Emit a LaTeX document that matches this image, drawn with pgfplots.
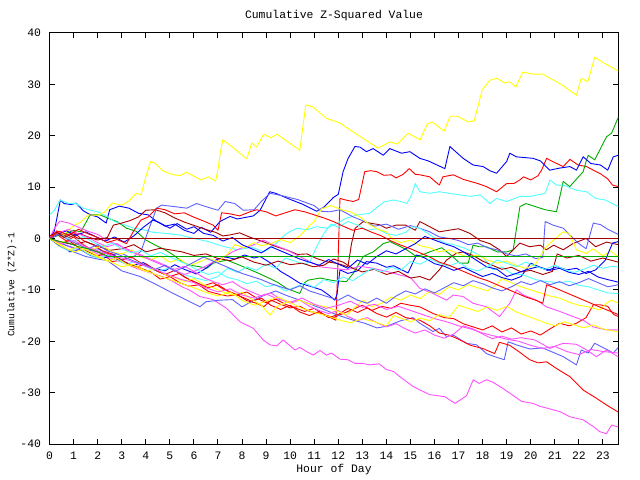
\documentclass[border=0pt]{standalone}
\usepackage{pgfplots}
\pgfplotsset{compat=1.18}
\usepackage{fontspec}
\setmainfont{Liberation Mono}
\definecolor{gpred}{RGB}{255,0,0}
\definecolor{gpgreen}{RGB}{0,170,0}
\definecolor{gpblue}{RGB}{0,0,255}
\definecolor{gpmag}{RGB}{255,80,255}
\definecolor{gpcyan}{RGB}{80,255,255}
\definecolor{gpdred}{RGB}{165,0,0}
\definecolor{gpyel}{RGB}{255,255,0}
\definecolor{gpslate}{RGB}{96,96,255}
\begin{document}
\begin{tikzpicture}
\useasboundingbox (-49.6bp,-36bp) rectangle (590.4bp,444bp);
\begin{axis}[
  at={(0,0)}, anchor=south west,
  scale only axis, width=568.7bp, height=411bp,
  xmin=0, xmax=23.64, ymin=-40, ymax=40,
  xtick={0,1,...,23}, ytick={-40,-30,...,40},
  tick align=inside, major tick length=5bp,
  tick style={black, line width=1bp},
  axis line style={black, line width=1bp},
  /pgf/number format/assume math mode=true,
  ticklabel style={font=\fontsize{11.4bp}{12bp}\selectfont},
  xticklabel style={anchor=center, inner sep=0pt, yshift=-12bp},
  yticklabel style={anchor=east, inner sep=0pt, xshift=-8.4bp},
  every axis plot/.append style={line width=0.9bp, mark=none, line join=round},
  clip=true,
]
% 1 red top
\addplot[gpred] coordinates {(0,0)(0.3,0.8)(0.7,-0.5)(1,0.3)(1.4,-1.2)(1.8,-2.3)(2.2,-3.0)(2.6,-4.5)(3.0,-4.2)(3.4,-5.2)(3.8,-5.8)(4.2,-6.5)(4.6,-7.9)(5.0,-7.4)(5.4,-8.6)(5.8,-9.3)(6.2,-9.0)(6.6,-10.3)(7.0,-10.8)(7.4,-11.2)(7.8,-10.9)(8.2,-12.1)(8.6,-12.6)(8.9,-13.3)(9.2,-12.0)(9.6,-12.8)(10.0,-13.5)(10.4,-13.2)(10.8,-14.2)(11.2,-14.5)(11.6,-15.2)(11.9,-15.9)(12.0,-3)(12.07,7.8)(12.3,7.5)(12.62,7.2)(12.85,7.6)(13.1,13.0)(13.35,13.2)(13.6,13.0)(13.9,12.3)(14.2,12.4)(14.4,11.8)(14.7,12.5)(14.95,13.6)(15.2,12.5)(15.39,12.4)(15.8,12.0)(16.2,10.4)(16.35,12.0)(16.78,12.4)(17.2,11.5)(17.8,10.7)(18.16,10.1)(18.58,9.1)(19.0,10.7)(19.3,10.7)(19.55,11.4)(19.7,12.0)(20.0,11.4)(20.3,12.2)(20.45,13.3)(20.66,15.6)(20.9,15.0)(21.35,14.0)(21.63,15.4)(21.97,14.3)(22.32,14.0)(22.6,13.3)(22.9,12.6)(23.2,11.6)(23.4,10.4)(23.64,10.1)};
% 2 green surge
\addplot[gpgreen] coordinates {(0,0)(0.3,0.5)(0.6,0.8)(0.99,1.6)(1.3,1.3)(1.68,4.6)(2.1,4.6)(2.4,4.0)(2.8,3.3)(3.2,2.0)(3.6,1.4)(4.0,-0.3)(4.4,-1.3)(4.8,-2.2)(5.14,-3.2)(5.5,-4.5)(5.83,-5.2)(6.25,-5.5)(6.53,-5.8)(6.8,-4.8)(7.36,-4.2)(7.8,-5.0)(8.2,-5.8)(8.7,-6.8)(9.16,-7.8)(9.5,-8.6)(9.85,-9.7)(10.4,-10.7)(10.6,-8.6)(10.75,-8.1)(11.24,-7.7)(11.8,-8.2)(12.34,-8.4)(12.62,-6.8)(13.04,-3.5)(13.45,-2.6)(13.87,-1.0)(14.15,-0.6)(14.5,-1.4)(14.84,-2.2)(15.25,-3.5)(15.6,-3.0)(15.8,-2.6)(16.3,-1.8)(16.7,-3.3)(17.05,-4.8)(17.4,-4.8)(17.6,-1.3)(17.85,-1.6)(18.16,-1.6)(18.6,-2.6)(19.0,-2.6)(19.27,-2.2)(19.55,6.2)(19.8,6.8)(20.2,6.2)(20.6,5.6)(21.07,5.2)(21.35,11.1)(21.62,10.1)(22.18,13.0)(22.32,15.3)(22.39,16.2)(22.66,15.3)(23.15,19.8)(23.36,20.5)(23.64,23.6)};
% 3 blue top
\addplot[gpblue] coordinates {(0,0)(0.2,1.5)(0.45,7.5)(0.6,6.8)(0.9,6.6)(1.1,6.9)(1.4,5.4)(1.7,4.6)(2.0,4.2)(2.35,3.0)(2.5,5.6)(2.9,6.3)(3.3,5.9)(3.7,4.9)(4.1,4.6)(4.4,3.5)(4.8,2.4)(5.2,2.8)(5.6,1.6)(6.0,1.0)(6.3,2.2)(6.7,1.2)(7.08,3.3)(7.5,4.3)(7.8,3.8)(8.47,4.4)(8.75,5.5)(9.15,9.1)(9.4,8.8)(9.9,7.8)(10.5,6.7)(11.1,5.3)(11.4,6.1)(11.8,8.0)(12.0,8.6)(12.2,13)(12.4,15.5)(12.69,17.9)(12.9,17.8)(13.17,16.9)(13.45,17.5)(13.87,16.2)(14.14,17.5)(14.63,16.6)(14.98,16.9)(15.39,15.6)(15.74,15.1)(16.43,13.6)(16.64,17.9)(17.19,15.6)(17.61,14.3)(18.02,14.0)(18.3,13.2)(18.58,12.7)(19.0,15.0)(19.13,16.6)(19.4,15.9)(20.1,15.6)(20.4,15.1)(20.79,13.3)(21.2,13.7)(21.63,14)(21.9,13.3)(22.18,15.9)(22.5,14.6)(22.9,14.3)(23.2,13.3)(23.43,15.9)(23.64,16.2)};
% 4 magenta bottom
\addplot[gpmag] coordinates {(0,0)(0.4,-0.8)(0.8,-1.6)(1.2,-2.2)(1.6,-2.0)(2.0,-3.0)(2.4,-3.6)(2.8,-4.2)(3.2,-5.0)(3.6,-5.8)(4.0,-6.4)(4.4,-7.0)(4.8,-7.6)(5.14,-8.4)(5.5,-9.4)(5.8,-10.0)(6.25,-11.3)(6.8,-11.9)(7.36,-13.6)(7.91,-16.2)(8.47,-17.5)(8.88,-19.75)(9.16,-20.7)(9.44,-20.9)(9.71,-19.75)(9.85,-20.3)(10.2,-21.7)(10.4,-21.2)(10.68,-22.0)(10.96,-22.7)(11.24,-21.8)(11.51,-22.7)(11.72,-22.3)(12.07,-23.5)(12.4,-23.6)(12.69,-24.3)(13.0,-24.3)(13.3,-24.6)(13.7,-24.4)(14.0,-25.5)(14.3,-25.9)(14.56,-26.9)(15.11,-28.8)(15.4,-29.5)(15.81,-30.4)(16.43,-30.8)(16.85,-32.1)(17.33,-30.6)(17.61,-27.5)(17.85,-28.2)(18.16,-27.5)(18.4,-27.9)(18.85,-29.2)(19.25,-30.5)(19.62,-31.7)(20.1,-32.1)(20.4,-32.7)(20.66,-33.0)(21.21,-33.7)(21.63,-34.7)(22.18,-35.3)(22.6,-36.6)(22.87,-37.6)(23.15,-38.0)(23.36,-36.3)(23.64,-36.7)};
% 5 cyan top
\addplot[gpcyan] coordinates {(0,4.6)(0.2,5.5)(0.43,7.5)(0.8,6.8)(1.1,6.8)(1.4,5.9)(1.7,5.5)(2.0,5.2)(2.3,4.5)(2.7,3.3)(3.1,2.7)(3.5,2.0)(3.9,1.7)(4.3,1.2)(4.8,1.0)(5.4,0.7)(6.0,0.0)(6.6,-0.6)(7.2,-1.5)(7.8,-2.2)(8.4,-1.7)(8.9,-2.6)(9.3,-1.5)(9.85,1.0)(10.27,2.0)(10.7,1.7)(11.1,2.3)(11.5,2.0)(11.9,2.8)(12.3,3.9)(12.8,4.6)(13.3,4.9)(13.73,6.5)(13.9,7.1)(14.29,7.5)(14.6,7.2)(14.85,6.8)(15.05,8.5)(15.2,10.7)(15.39,9.1)(15.8,8.8)(16.2,9.1)(16.6,8.8)(17.05,8.5)(17.5,8.2)(17.9,8.5)(18.3,6.8)(18.58,7.8)(19.0,7.2)(19.55,8.2)(20.0,8.2)(20.6,8.8)(20.8,11.4)(21.07,10.4)(21.35,10.4)(21.9,9.4)(22.32,9.1)(22.7,7.8)(23.1,7.5)(23.4,6.8)(23.64,6.2)};
% 6 dark red A
\addplot[gpdred] coordinates {(0,0)(0.4,0.9)(0.8,0.2)(1.2,1.0)(1.6,0.3)(2.0,-0.3)(2.4,0.2)(2.65,2.6)(3.0,3.0)(3.35,3.5)(3.7,4.2)(4.0,5.5)(4.4,5.6)(4.8,5.0)(5.2,4.0)(5.6,3.2)(5.97,2.6)(6.4,1.9)(6.9,1.2)(7.2,0.5)(7.5,0.7)(7.9,1.1)(8.3,0.3)(8.8,-0.5)(9.43,-1.6)(9.9,-2.3)(10.3,-3.1)(10.7,-3.0)(11.1,-3.9)(11.5,-4.5)(12.0,-4.9)(12.4,-5.5)(12.55,-1.0)(12.7,2.0)(13.04,3.3)(13.3,3.0)(13.7,2.7)(14.0,2.0)(14.4,2.6)(14.8,2.6)(15.2,1.6)(15.39,3.3)(15.8,2.3)(16.2,1.3)(16.6,1.6)(17.0,1.9)(17.47,1.0)(17.9,-0.4)(18.3,-1.0)(18.7,-2.2)(19.0,-3.5)(19.27,-2.2)(19.55,-0.9)(19.95,-1.6)(20.4,-1.3)(20.65,-2.2)(20.95,-1.3)(21.35,-2.2)(21.75,-1.0)(22.3,0)(22.7,-1.6)(23.15,-0.7)(23.64,-1.2)};
% 7 yellow top
\addplot[gpyel] coordinates {(0,0)(0.3,1.2)(0.6,0.8)(1,2.5)(1.3,3.2)(1.6,4.6)(2,4.5)(2.3,5.2)(2.6,6.9)(3,6.5)(3.3,7.3)(3.6,8.8)(3.8,8.5)(4.0,12)(4.2,15.0)(4.4,14.6)(4.7,13.2)(5,12.6)(5.4,12.2)(5.7,12.9)(6,12.1)(6.3,11.4)(6.6,12.0)(6.9,11.2)(7.0,13.5)(7.1,16.8)(7.2,19.2)(7.6,17.8)(8.2,15.5)(8.4,18.6)(8.6,17.8)(8.9,20.3)(9.2,19.6)(9.45,20.3)(10.4,17.2)(10.65,26)(10.95,25.6)(11.5,23.4)(12.07,22.5)(12.5,21.1)(13.65,17.6)(14.15,18.8)(14.45,18.4)(14.9,20.5)(15.4,19.2)(15.7,22.3)(15.9,22.7)(16.4,20.9)(16.65,23.8)(16.95,23.8)(17.4,22.7)(17.65,22.9)(17.98,28.9)(18.3,30.8)(18.6,31.2)(18.9,30.3)(19.13,30.5)(19.38,29.5)(19.67,32.4)(20.1,32.0)(20.5,32.0)(21.3,29.9)(21.9,27.9)(22.1,31.2)(22.37,30.5)(22.66,35.3)(22.99,34.3)(23.64,32.6)};
% 8 slate upper
\addplot[gpslate] coordinates {(0,0)(0.5,-1)(1,-1.8)(1.5,-2.5)(2,-2.0)(2.5,-3.2)(3,-2.9)(3.4,-3.8)(3.8,-2.5)(4.1,1.5)(4.45,5.9)(4.66,6.5)(5.2,6.2)(5.7,5.9)(6.11,6.8)(6.5,6.2)(7.0,5.5)(7.3,7.2)(7.7,6.8)(8.05,5.5)(8.5,5.6)(8.8,7.2)(9.16,8.8)(9.6,8.4)(10.3,7.6)(11.0,6.4)(11.3,5.3)(11.65,5.2)(12.07,5.6)(12.62,4.2)(13.1,3.3)(13.5,2.4)(14.0,2.8)(14.5,1.8)(15.0,2.5)(15.39,2)(15.8,1.3)(16.2,0.3)(16.64,0)(17.0,-0.4)(17.4,-1.2)(17.8,-0.9)(18.2,-1.8)(18.6,-2.2)(19.0,-3.0)(19.4,-3.4)(19.8,-3.0)(20.2,-3.9)(20.5,-3.7)(20.6,3.3)(20.93,2.6)(21.35,2)(21.6,0.8)(21.95,-0.8)(22.3,-2.0)(22.6,3)(22.9,2.7)(23.2,1.8)(23.64,0.8)};
% 9 red low
\addplot[gpred] coordinates {(0,0)(0.3,1.5)(0.6,0.5)(1.0,1.2)(1.4,-0.4)(1.8,-1.2)(2.2,-2.4)(2.6,-3.0)(3.0,-4.2)(3.4,-3.6)(3.8,-4.8)(4.2,-5.8)(4.6,-6.6)(5.0,-7.4)(5.4,-6.8)(5.8,-8.0)(6.2,-8.8)(6.6,-9.6)(7.0,-9.0)(7.4,-10.2)(7.8,-11.0)(8.2,-10.4)(8.6,-11.6)(9.0,-12.5)(9.4,-11.8)(9.8,-12.8)(10.2,-13.5)(10.6,-14.2)(11.0,-13.6)(11.4,-14.8)(11.8,-15.4)(12.2,-14.6)(12.6,-13.8)(13.0,-13.0)(13.4,-14.0)(13.8,-13.2)(14.2,-13.6)(14.6,-12.6)(15.0,-13.0)(15.39,-13.3)(15.94,-14.6)(16.4,-15.4)(16.8,-15.6)(17.2,-16.6)(17.6,-17.2)(18.0,-17.8)(18.4,-17.0)(18.8,-18.2)(19.2,-17.4)(19.6,-18.6)(20.0,-18.0)(20.4,-18.8)(20.8,-17.6)(21.2,-16.5)(21.6,-17.0)(21.9,-16.5)(22.3,-15.4)(22.6,-12.9)(22.87,-12.9)(23.2,-13.2)(23.45,-14.8)(23.64,-15.2)};
% 10 blue mid
\addplot[gpblue] coordinates {(0,0)(0.4,-1.2)(0.85,-2.6)(1.3,-2.2)(1.7,-3.3)(2.2,-3.9)(2.65,-3.2)(3.1,-4.6)(3.48,-5.2)(3.9,-4.7)(4.3,-5.8)(4.8,-6.3)(5.2,-5.1)(5.6,-6.0)(6.1,-6.9)(6.5,-5.8)(6.9,-4.2)(7.3,-3.6)(7.7,-4.0)(8.1,-3.2)(8.5,-3.8)(8.75,-3.5)(9.2,-4.8)(9.6,-6.4)(10.0,-7.5)(10.4,-8.7)(10.9,-9.4)(11.3,-10.0)(11.6,-11.0)(11.86,-12.0)(11.95,-10.8)(12.07,-6.1)(12.4,-6.8)(12.8,-6.3)(13.17,-4.5)(13.6,-4.8)(14.0,-5.6)(14.3,-5.3)(14.6,-6.0)(14.9,-6.7)(15.25,-3.2)(15.6,-3.8)(16.0,-4.9)(16.4,-5.4)(16.8,-6.2)(17.2,-5.6)(17.6,-6.5)(18.0,-7.4)(18.4,-6.8)(18.8,-7.6)(19.2,-8.1)(19.6,-7.4)(20.0,-4.8)(20.4,-5.6)(20.8,-6.2)(21.2,-5.8)(21.6,-6.6)(22.0,-7.0)(22.4,-6.4)(22.8,-7.5)(23.2,-8.0)(23.64,-8.5)};
% 11 magenta mid
\addplot[gpmag] coordinates {(0,0)(0.2,2.0)(0.43,3.4)(0.8,3.0)(1.2,2.2)(1.6,1.4)(2.0,0.8)(2.4,-0.4)(2.8,-1.2)(3.2,-2.0)(3.6,-2.8)(4.0,-3.6)(4.4,-4.4)(4.8,-5.2)(5.2,-6.0)(5.6,-5.4)(6.0,-6.4)(6.4,-5.6)(6.8,-4.6)(7.2,-3.8)(7.6,-2.6)(8.0,-1.8)(8.4,-1.4)(8.88,-0.3)(9.3,-1.2)(9.85,-2.2)(10.3,-3.3)(10.82,-4.5)(11.24,-5.5)(11.79,-5.8)(12.34,-6.1)(12.9,-5.4)(13.45,-5.8)(14.0,-6.4)(14.56,-7.1)(15.0,-7.6)(15.39,-9.7)(15.94,-10.7)(16.5,-12.0)(16.78,-11.0)(17.19,-11.3)(17.6,-12.6)(18.16,-13.3)(18.7,-15.2)(19.13,-12.6)(19.41,-10.0)(19.69,-11.0)(20.24,-12.0)(20.65,-13.3)(21.21,-14.2)(21.76,-15.2)(22.18,-15.9)(22.6,-17.2)(23.15,-17.8)(23.64,-17.8)};
% 12 cyan low
\addplot[gpcyan] coordinates {(0,0)(0.4,-1.5)(0.8,-2.4)(1.2,-1.8)(1.6,-3.0)(2.0,-3.8)(2.4,-3.2)(2.8,-4.2)(3.2,-5.0)(3.6,-4.4)(4.0,-5.5)(4.5,-6.4)(5.0,-5.7)(5.5,-6.9)(6.0,-7.6)(6.5,-8.2)(7.0,-7.4)(7.4,-5.8)(7.8,-6.6)(8.2,-5.5)(8.6,-6.2)(9.0,-5.0)(9.4,-5.8)(9.8,-3.8)(10.2,-4.4)(10.6,-5.0)(10.82,-4.5)(11.1,-1.6)(11.4,1.0)(11.7,2.8)(12.0,2.2)(12.4,3.3)(12.8,2.6)(13.2,1.6)(13.6,1.9)(14.0,1.0)(14.4,0.6)(14.8,1.2)(15.1,2.3)(15.39,2.0)(15.94,0.3)(16.4,-0.8)(16.8,-1.2)(17.2,-1.8)(17.6,-2.6)(18.0,-3.6)(18.44,-6.1)(18.8,-5.5)(19.2,-6.8)(19.7,-7.1)(20.2,-8.0)(20.7,-8.4)(21.2,-8.6)(21.6,-8.3)(22.0,-9.1)(22.4,-9.4)(22.8,-10.0)(23.2,-10.6)(23.64,-10.7)};
% 13 dark red B
\addplot[gpdred] coordinates {(0,0)(0.5,-0.7)(1.0,-1.2)(1.5,-0.6)(2.0,-1.5)(2.5,-2.3)(3.0,-2.0)(3.5,-1.2)(4.0,-2.6)(4.6,-1.9)(5.0,-2.2)(5.5,-2.6)(6.0,-3.3)(6.5,-3.0)(7.0,-3.9)(7.5,-4.3)(8.0,-3.6)(8.5,-4.6)(9.0,-5.2)(9.5,-4.4)(10.0,-5.1)(10.5,-4.8)(10.96,-5.5)(11.4,-5.2)(11.8,-4.0)(12.2,-4.6)(12.6,-5.8)(13.0,-6.5)(13.5,-6.0)(14.0,-7.0)(14.5,-6.4)(15.0,-7.7)(15.39,-7.4)(15.8,-8.1)(16.2,-6.1)(16.5,-4.2)(16.9,-2.9)(17.2,-2.6)(17.6,-3.3)(18.0,-4.4)(18.4,-5.2)(18.8,-6.0)(19.2,-5.6)(19.6,-6.5)(20.0,-6.2)(20.5,-7.0)(20.9,-6.4)(21.1,-3.0)(21.5,-3.8)(22.0,-3.3)(22.5,-4.4)(23.0,-3.8)(23.64,-4.6)};
% 14 yellow mid
\addplot[gpyel] coordinates {(0,0)(0.4,-0.8)(0.9,-0.4)(1.3,-1.5)(1.8,-2.0)(2.2,-1.4)(2.6,-2.6)(3.0,-3.0)(3.4,-2.2)(3.8,-3.6)(4.2,-4.1)(4.6,-3.4)(5.0,-4.6)(5.4,-4.0)(5.8,-5.3)(6.2,-4.6)(6.6,-3.9)(7.0,-4.5)(7.4,-3.0)(7.7,-1.2)(8.1,-1.8)(8.5,-0.8)(8.8,-1.4)(9.2,-1.0)(9.6,-0.2)(10.0,-0.8)(10.4,0.5)(10.8,2.5)(11.0,3.3)(11.3,5.8)(11.7,6.4)(12.2,5.5)(12.5,5.2)(12.9,4.2)(13.3,2.7)(13.7,1.7)(14.0,1.3)(14.2,0.0)(14.6,-0.8)(15.0,-0.3)(15.4,-1.4)(15.8,-1.8)(16.2,-2.6)(16.6,-2.2)(17.0,-3.0)(17.4,-3.6)(17.8,-3.2)(18.2,-4.2)(18.6,-4.8)(19.0,-4.4)(19.4,-5.3)(19.8,-5.8)(20.2,-5.0)(20.6,-1.8)(20.9,-0.5)(21.35,1.3)(21.6,1.0)(21.9,-2.2)(22.3,-2.9)(22.6,-2.0)(23.0,-3.4)(23.3,-2.4)(23.64,-3.6)};
% 15 slate low
\addplot[gpslate] coordinates {(0,0)(0.4,-1.4)(0.99,-2.6)(1.5,-3.5)(2.0,-4.0)(2.4,-4.3)(3.0,-6.3)(3.76,-7.4)(4.45,-9.0)(5.14,-10.7)(5.7,-12.0)(6.25,-13.3)(6.5,-12.3)(7.08,-12.0)(7.6,-11.9)(8.0,-13.3)(8.5,-12.0)(8.9,-11.1)(9.4,-10.2)(9.85,-11.1)(10.4,-12.0)(10.9,-12.9)(11.4,-13.8)(11.9,-14.8)(12.62,-15.9)(13.1,-16.5)(13.6,-17.4)(14.0,-17.1)(14.6,-16.0)(15.1,-15.4)(15.39,-16.5)(15.94,-18.1)(16.2,-17.5)(16.5,-19.1)(16.78,-18.8)(17.33,-20.4)(17.75,-20.7)(18.16,-22.4)(18.5,-23.0)(18.9,-23.6)(19.06,-20.1)(19.4,-20.7)(19.96,-21.5)(20.5,-21.3)(21.0,-22.3)(21.35,-23.0)(21.9,-24.6)(22.1,-21.7)(22.39,-22.3)(22.66,-20.4)(23.2,-21.7)(23.43,-22.3)(23.64,-21.2)};
% 16 red bottom
\addplot[gpred] coordinates {(0,0)(0.4,-1.2)(0.8,-0.4)(1.2,-1.8)(1.6,-2.6)(2.0,-3.4)(2.4,-2.8)(2.8,-4.0)(3.2,-4.8)(3.6,-5.6)(4.0,-4.9)(4.4,-6.2)(4.8,-7.0)(5.2,-6.2)(5.6,-7.5)(6.0,-8.4)(6.4,-9.2)(6.8,-8.6)(7.2,-9.8)(7.6,-10.6)(8.0,-11.4)(8.4,-12.2)(8.8,-11.6)(9.2,-13.0)(9.6,-13.8)(10.0,-13.0)(10.4,-14.3)(10.8,-15.0)(11.2,-14.2)(11.6,-15.4)(12.0,-14.8)(12.4,-13.6)(12.8,-14.4)(13.2,-13.5)(13.6,-14.6)(14.0,-15.3)(14.4,-14.4)(14.8,-15.4)(15.39,-15.9)(15.8,-17.0)(16.2,-18.4)(16.6,-18.8)(17.0,-19.6)(17.5,-20.8)(18.0,-21.4)(18.5,-22.4)(18.7,-20.2)(19.13,-20.8)(19.5,-22.0)(19.96,-23.6)(20.3,-24.2)(20.66,-24.0)(21.07,-25.3)(21.63,-26.9)(22.18,-29.5)(22.73,-31.1)(23.15,-32.4)(23.64,-33.8)};
% 17 blue mid 2
\addplot[gpblue] coordinates {(0,0)(0.3,0.8)(0.7,1.5)(1.1,0.6)(1.5,1.3)(1.9,0.4)(2.3,-0.5)(2.7,0.3)(3.1,-0.7)(3.5,0.5)(3.9,2.2)(4.3,3.6)(4.6,3.0)(5.0,2.0)(5.3,2.9)(5.7,1.8)(6.0,2.3)(6.4,1.0)(6.8,0.6)(7.2,-0.5)(7.6,0.2)(8.0,-1.2)(8.4,-2.0)(8.8,-2.8)(9.2,-1.6)(9.6,-2.4)(10.0,-3.2)(10.4,-4.0)(10.8,-4.6)(11.2,-5.2)(11.6,-4.1)(12.0,-5.0)(12.4,-5.8)(12.8,-4.2)(13.2,-5.0)(13.6,-3.5)(14.0,-2.4)(14.4,-3.0)(14.8,-2.0)(15.2,-1.0)(15.6,0.4)(16.0,-0.3)(16.4,-1.0)(16.8,-1.6)(17.2,-2.6)(17.6,-3.8)(18.16,-5.5)(18.6,-6.0)(19.0,-7.4)(19.4,-6.8)(19.8,-6.1)(20.3,-5.5)(20.7,-6.2)(21.1,-5.5)(21.5,-6.1)(21.9,-5.8)(22.3,-6.8)(22.7,-6.1)(23.1,-4.2)(23.4,-0.9)(23.64,-0.6)};
% 18 magenta low
\addplot[gpmag] coordinates {(0,0)(0.4,1.2)(0.8,1.8)(1.2,0.9)(1.6,0.2)(2.0,-0.8)(2.4,-1.6)(2.8,-1.0)(3.2,-2.2)(3.6,-3.0)(4.0,-3.8)(4.4,-4.6)(4.8,-5.4)(5.2,-6.2)(5.6,-7.0)(6.0,-6.4)(6.4,-7.6)(6.8,-8.4)(7.2,-9.0)(7.6,-8.4)(8.0,-9.6)(8.4,-10.4)(8.8,-11.2)(9.2,-10.6)(9.6,-11.8)(10.0,-12.6)(10.4,-12.0)(10.8,-13.2)(11.2,-14.0)(11.6,-14.6)(12.0,-14.0)(12.4,-15.2)(12.8,-16.0)(13.2,-15.4)(13.6,-16.4)(14.0,-17.2)(14.4,-16.6)(14.8,-17.6)(15.2,-18.4)(15.6,-17.8)(16.0,-18.8)(16.4,-19.4)(16.8,-18.6)(17.2,-17.0)(17.6,-17.6)(18.0,-18.6)(18.4,-19.5)(18.8,-19.0)(19.2,-19.6)(19.6,-19.3)(20.17,-19.75)(20.5,-20.6)(20.8,-21.4)(21.1,-20.8)(21.35,-20.4)(21.9,-20.6)(22.32,-21.7)(22.73,-23.0)(23.15,-21.7)(23.64,-23.0)};
% 19 cyan 3
\addplot[gpcyan] coordinates {(0,0)(0.3,1.0)(0.7,0.3)(1.0,-0.6)(1.4,0.4)(1.8,-0.7)(2.2,-1.6)(2.6,-0.9)(3.0,-2.0)(3.4,-2.8)(3.8,-2.3)(4.2,-3.4)(4.6,-2.7)(5.0,-3.6)(5.4,-4.4)(5.8,-5.2)(6.2,-6.3)(6.6,-7.0)(7.0,-6.5)(7.4,-7.6)(7.8,-8.0)(8.2,-8.8)(8.6,-8.3)(9.0,-9.4)(9.4,-9.0)(9.8,-10.2)(10.2,-9.5)(10.6,-8.7)(11.0,-9.5)(11.4,-8.0)(11.8,-8.6)(12.2,-7.5)(12.6,-8.2)(13.0,-7.0)(13.4,-5.8)(13.8,-6.5)(14.2,-5.6)(14.6,-6.2)(15.0,-4.5)(15.4,-5.0)(15.8,-4.0)(16.2,-4.8)(16.6,-5.4)(17.0,-4.6)(17.4,-5.8)(17.8,-6.3)(18.2,-5.5)(18.6,-4.2)(19.0,-4.8)(19.4,-5.5)(19.8,-4.6)(20.2,-5.4)(20.6,-6.0)(21.0,-5.2)(21.4,-6.0)(21.8,-6.6)(22.2,-6.0)(22.6,-5.2)(23.0,-5.8)(23.4,-5.4)(23.64,-5.6)};
% 20 yellow low
\addplot[gpyel] coordinates {(0,0)(0.4,-1.0)(0.8,-2.2)(1.2,-1.6)(1.6,-2.8)(2.0,-3.6)(2.4,-4.4)(2.8,-3.8)(3.2,-5.0)(3.6,-5.6)(4.0,-6.4)(4.4,-5.8)(4.8,-7.0)(5.2,-7.6)(5.6,-8.4)(6.0,-7.8)(6.4,-9.0)(6.8,-9.6)(7.2,-10.4)(7.6,-11.0)(8.0,-10.5)(8.4,-11.8)(8.8,-13.0)(9.16,-14.9)(9.43,-13.3)(9.85,-12.4)(10.4,-12.0)(10.7,-12.6)(11.1,-13.0)(11.5,-13.3)(11.9,-14.0)(12.34,-14.9)(12.7,-13.4)(13.04,-12.0)(13.4,-13.3)(13.8,-12.6)(14.2,-11.4)(14.6,-12.0)(15.0,-11.0)(15.4,-11.7)(15.8,-10.3)(16.2,-10.9)(16.6,-9.4)(17.0,-10.0)(17.4,-9.0)(17.8,-9.6)(18.2,-10.2)(18.58,-9.0)(18.8,-7.8)(19.2,-8.6)(19.6,-9.4)(20.0,-10.0)(20.4,-10.6)(20.8,-11.2)(21.2,-11.6)(21.6,-12.4)(22.0,-13.0)(22.4,-13.3)(22.87,-13.9)(23.2,-12.4)(23.36,-12.0)(23.64,-12.6)};
% 21 slate 2
\addplot[gpslate] coordinates {(0,0)(0.4,0.8)(0.8,-0.3)(1.2,-1.2)(1.6,-2.0)(2.0,-1.2)(2.4,-2.4)(2.8,-3.0)(3.2,-3.8)(3.6,-4.6)(4.0,-5.2)(4.4,-6.0)(4.8,-5.2)(5.2,-6.4)(5.6,-5.6)(6.0,-4.6)(6.4,-3.6)(6.8,-4.4)(7.2,-5.2)(7.6,-6.0)(8.0,-6.8)(8.4,-7.4)(8.8,-8.0)(9.2,-8.8)(9.6,-9.4)(10.0,-10.0)(10.4,-9.2)(10.8,-10.2)(11.2,-10.8)(11.6,-11.4)(12.0,-12.0)(12.4,-11.0)(12.8,-12.0)(13.2,-12.6)(13.6,-11.6)(14.0,-12.6)(14.4,-11.2)(14.8,-10.2)(15.2,-10.8)(15.6,-9.8)(16.0,-10.6)(16.4,-9.6)(16.8,-8.6)(17.2,-9.2)(17.6,-8.2)(18.0,-8.8)(18.4,-9.6)(18.8,-10.2)(19.2,-9.4)(19.6,-8.4)(20.0,-9.0)(20.4,-8.2)(20.8,-9.0)(21.2,-8.4)(21.6,-9.2)(22.0,-8.6)(22.4,-7.8)(22.8,-8.6)(23.2,-9.4)(23.64,-9.0)};
% 22 red mid
\addplot[gpred] coordinates {(0,0)(0.4,1.4)(0.8,0.6)(1.2,1.8)(1.6,0.9)(2.0,0.2)(2.4,-0.8)(2.8,-0.2)(3.2,-1.0)(3.5,1.5)(3.8,3.6)(4.1,4.2)(4.45,5.9)(4.8,5.6)(5.2,4.8)(5.6,5.0)(5.97,4.2)(6.4,3.4)(6.8,2.6)(7.0,1.6)(7.15,5.0)(7.5,4.8)(7.9,4.4)(8.33,5.2)(8.6,5.6)(9.0,5.2)(9.4,4.4)(9.8,5.0)(10.2,5.6)(10.6,5.2)(11.0,4.6)(11.4,4.0)(11.8,3.3)(12.2,2.4)(12.6,1.6)(13.0,2.0)(13.4,1.2)(13.8,0.5)(14.2,-0.5)(14.6,-1.3)(15.0,-2.0)(15.4,-2.8)(15.8,-3.6)(16.2,-4.6)(16.6,-5.2)(17.0,-6.0)(17.4,-6.8)(17.8,-7.6)(18.2,-8.2)(18.6,-9.0)(19.0,-9.8)(19.4,-10.6)(19.8,-11.4)(20.2,-12.0)(20.5,-12.6)(20.66,-9.0)(21.0,-9.6)(21.4,-10.4)(21.8,-11.2)(22.2,-12.0)(22.6,-12.8)(23.0,-13.6)(23.64,-14.8)};
% 23 magenta 3
\addplot[gpmag] coordinates {(0,0)(0.5,-1.0)(1.0,-0.4)(1.5,-1.6)(2.0,-2.4)(2.5,-3.2)(3.0,-3.8)(3.5,-4.6)(4.0,-5.4)(4.5,-6.2)(5.0,-7.2)(5.5,-8.0)(6.0,-8.6)(6.5,-9.6)(7.0,-10.4)(7.5,-9.8)(8.0,-11.0)(8.5,-11.6)(9.0,-10.8)(9.5,-11.8)(10.0,-12.4)(10.5,-11.6)(11.0,-12.8)(11.5,-13.6)(12.0,-13.0)(12.5,-12.2)(13.0,-13.4)(13.5,-12.8)(14.0,-13.8)(14.5,-13.2)(15.0,-14.0)(15.5,-14.8)(16.0,-15.6)(16.5,-16.2)(17.0,-17.0)(17.5,-17.6)(18.0,-18.4)(18.5,-19.0)(19.0,-19.6)(19.5,-20.0)(20.0,-20.8)(20.5,-21.4)(21.0,-21.0)(21.5,-22.0)(22.0,-22.6)(22.5,-21.6)(23.0,-22.0)(23.64,-22.3)};
% 24 yellow 3
\addplot[gpyel] coordinates {(0,0)(0.5,-1.5)(1.0,-2.6)(1.5,-2.0)(2.0,-3.4)(2.5,-4.5)(3.0,-5.5)(3.5,-5.0)(4.0,-6.3)(4.5,-7.2)(5.0,-8.0)(5.5,-8.8)(6.0,-9.6)(6.5,-10.5)(7.0,-11.2)(7.5,-10.4)(8.0,-12.0)(8.5,-13.0)(9.0,-12.2)(9.5,-11.4)(10.0,-12.5)(10.5,-13.6)(11.0,-14.4)(11.5,-15.0)(12.0,-15.8)(12.5,-16.4)(13.0,-15.6)(13.5,-16.2)(14.0,-17.0)(14.3,-15.0)(14.6,-15.5)(15.0,-16.2)(15.4,-15.5)(15.8,-16.0)(16.2,-14.8)(16.6,-15.4)(17.0,-13.0)(17.4,-13.6)(17.8,-14.2)(18.2,-13.3)(18.6,-14.0)(19.0,-13.2)(19.4,-14.3)(19.8,-15.0)(20.2,-15.7)(20.6,-16.4)(21.0,-17.0)(21.4,-16.2)(21.8,-16.8)(22.2,-17.4)(22.6,-16.8)(23.0,-17.6)(23.64,-18.2)};
% 25 green flat
\addplot[gpgreen] coordinates {(0,0)(0.4,-0.6)(0.8,-0.9)(1.2,-1.6)(1.6,-2.0)(2.0,-2.6)(2.44,-3.5)(23.64,-3.5)};
% 26 dark red flat
\addplot[gpdred] coordinates {(0,0.5)(0.3,1.2)(0.6,0.2)(0.9,0.8)(1.2,0)(23.64,0)};
\end{axis}
\node[font=\fontsize{11.4bp}{12bp}\selectfont] at (284.4bp,428bp) {Cumulative Z-Squared Value};
\node[font=\fontsize{11.4bp}{12bp}\selectfont] at (284.4bp,-26bp) {Hour of Day};
\node[font=\fontsize{9.6bp}{10bp}\selectfont, rotate=90] at (-37.6bp,159bp) {Cumulative (Z*Z)-1};
\end{tikzpicture}
\end{document}
